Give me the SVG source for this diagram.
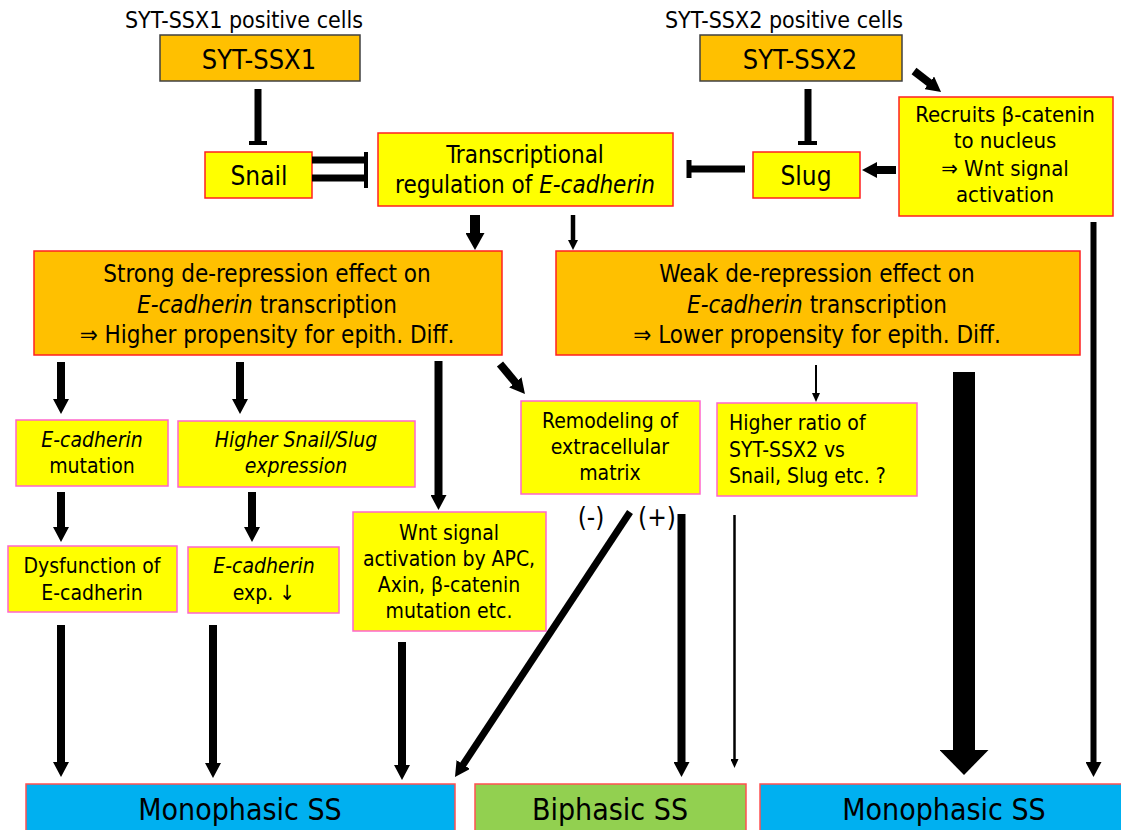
<svg xmlns="http://www.w3.org/2000/svg" width="1121" height="830" viewBox="0 0 1121 830">
<style>
text { font-family: 'DejaVu Sans Condensed', 'DejaVu Sans', sans-serif; font-stretch: condensed; fill: #000; text-anchor: middle; }
.t21 { font-size: 21px; }
.t22 { font-size: 22px; }
.t23 { font-size: 23px; }
.t24 { font-size: 24px; }
.t26 { font-size: 26px; }
.t27 { font-size: 27px; }
.t30 { font-size: 30px; }
.it { font-style: italic; }
.ordk { fill: #FFC000; stroke: #404040; stroke-width: 1.5; }
.or { fill: #FFC000; stroke: #FF2020; stroke-width: 1.5; }
.ye { fill: #FFFF00; stroke: #FF2020; stroke-width: 1.5; }
.yp { fill: #FFFF00; stroke: #FF66CC; stroke-width: 1.5; }
.bl { fill: #00B0F0; stroke: #FF5050; stroke-width: 1.5; }
.gr { fill: #92D050; stroke: #FF5050; stroke-width: 1.5; }
.c line, .c path { stroke: #000; fill: none; }
</style>
<defs>
<marker id="hb" markerUnits="userSpaceOnUse" markerWidth="17" markerHeight="19" viewBox="0 0 17 19" refX="1" refY="9.5" orient="auto"><path d="M0,0 L17,9.5 L0,19 z" fill="#000"/></marker>
<marker id="hm" markerUnits="userSpaceOnUse" markerWidth="15" markerHeight="16" viewBox="0 0 15 16" refX="1" refY="8" orient="auto"><path d="M0,0 L15,8 L0,16 z" fill="#000"/></marker>
<marker id="hs" markerUnits="userSpaceOnUse" markerWidth="10" markerHeight="10" viewBox="0 0 10 10" refX="1" refY="5" orient="auto"><path d="M0,0 L10,5 L0,10 z" fill="#000"/></marker>
<marker id="ht" markerUnits="userSpaceOnUse" markerWidth="9" markerHeight="8" viewBox="0 0 9 8" refX="1" refY="4" orient="auto"><path d="M0,0 L9,4 L0,8 z" fill="#000"/></marker>
<marker id="hh" markerUnits="userSpaceOnUse" markerWidth="25" markerHeight="49" viewBox="0 0 25 49" refX="1" refY="24.5" orient="auto"><path d="M0,0 L25,24.5 L0,49 z" fill="#000"/></marker>
</defs>

<text class="t23" x="244" y="28">SYT-SSX1 positive cells</text>
<text class="t23" x="784" y="28">SYT-SSX2 positive cells</text>

<g id="syt-ssx1"><rect class="ordk" x="160" y="35" width="200" height="46"/><text class="t27" x="259" y="69">SYT-SSX1</text></g>
<g id="syt-ssx2"><rect class="ordk" x="700" y="35" width="202" height="46"/><text class="t27" x="800" y="69">SYT-SSX2</text></g>
<g id="snail"><rect class="ye" x="205" y="152" width="107" height="46"/><text class="t26" x="259" y="185">Snail</text></g>
<g id="transcriptional"><rect class="ye" x="378" y="133" width="295" height="73"/><text class="t24" x="525" y="163">Transcriptional</text><text class="t24" x="525" y="193">regulation of <tspan class="it">E-cadherin</tspan></text></g>
<g id="slug"><rect class="ye" x="753" y="152" width="107" height="46"/><text class="t26" x="806" y="185">Slug</text></g>
<g id="recruits"><rect class="ye" x="899" y="97" width="214" height="119"/><text class="t22" x="1005" y="122">Recruits β-catenin</text><text class="t22" x="1005" y="148">to nucleus</text><text class="t22" x="1005" y="176">⇒ Wnt signal</text><text class="t22" x="1005" y="202">activation</text></g>
<g id="strong"><rect class="or" x="34" y="251" width="468" height="104"/><text class="t24" x="267" y="282">Strong de-repression effect on</text><text class="t24" x="267" y="313"><tspan class="it">E-cadherin</tspan> transcription</text><text class="t24" x="267" y="343">⇒ Higher propensity for epith. Diff.</text></g>
<g id="weak"><rect class="or" x="556" y="251" width="524" height="104"/><text class="t24" x="817" y="282">Weak de-repression effect on</text><text class="t24" x="817" y="313"><tspan class="it">E-cadherin</tspan> transcription</text><text class="t24" x="817" y="343">⇒ Lower propensity for epith. Diff.</text></g>
<g id="ecad-mutation"><rect class="yp" x="16" y="420" width="152" height="66"/><text class="t21 it" x="92" y="447">E-cadherin</text><text class="t21" x="92" y="473">mutation</text></g>
<g id="higher-snail-slug"><rect class="yp" x="178" y="421" width="237" height="66"/><text class="t21 it" x="296" y="447">Higher Snail/Slug</text><text class="t21 it" x="296" y="473">expression</text></g>
<g id="remodeling"><rect class="yp" x="521" y="401" width="179" height="93"/><text class="t21" x="610" y="428">Remodeling of</text><text class="t21" x="610" y="454">extracellular</text><text class="t21" x="610" y="480">matrix</text></g>
<g id="higher-ratio"><rect class="yp" x="717" y="403" width="200" height="93"/><text class="t21" x="729" y="430" style="text-anchor:start">Higher ratio of</text><text class="t21" x="729" y="457" style="text-anchor:start">SYT-SSX2 vs</text><text class="t21" x="729" y="483" style="text-anchor:start">Snail, Slug etc. ?</text></g>
<g id="dysfunction"><rect class="yp" x="8" y="546" width="169" height="66"/><text class="t21" x="92" y="573">Dysfunction of</text><text class="t21" x="92" y="600">E-cadherin</text></g>
<g id="ecad-exp"><rect class="yp" x="188" y="547" width="151" height="66"/><text class="t21 it" x="264" y="573">E-cadherin</text><text class="t21" x="264" y="600">exp. ↓</text></g>
<g id="wnt"><rect class="yp" x="353" y="512" width="193" height="119"/><text class="t21" x="449" y="540">Wnt signal</text><text class="t21" x="449" y="566">activation by APC,</text><text class="t21" x="449" y="592">Axin, β-catenin</text><text class="t21" x="449" y="618">mutation etc.</text></g>
<g id="mono1"><rect class="bl" x="26" y="784" width="429" height="70"/><text class="t30" x="240" y="820">Monophasic SS</text></g>
<g id="biphasic"><rect class="gr" x="475" y="784" width="271" height="70"/><text class="t30" x="610" y="820">Biphasic SS</text></g>
<g id="mono2"><rect class="bl" x="760" y="784" width="370" height="70"/><text class="t30" x="944" y="820">Monophasic SS</text></g>

<text class="t26" x="591" y="526">(-)</text>
<text class="t26" x="657" y="526">(+)</text>

<g id="connectors" class="c">
<line x1="258" y1="89" x2="258" y2="142" stroke-width="7"/><line x1="249" y1="143" x2="267" y2="143" stroke-width="4"/>
<line x1="808" y1="89" x2="808" y2="142" stroke-width="7"/><line x1="798" y1="143" x2="817" y2="143" stroke-width="4"/>
<line x1="312" y1="160" x2="365" y2="160" stroke-width="7"/><line x1="312" y1="178" x2="365" y2="178" stroke-width="7"/><line x1="366" y1="152" x2="366" y2="188" stroke-width="4"/>
<line x1="745" y1="169" x2="688" y2="169" stroke-width="7"/><line x1="689" y1="160" x2="689" y2="178" stroke-width="5"/>
<line x1="914" y1="71" x2="930" y2="83.4" stroke-width="8" marker-end="url(#hm)"/>
<line x1="896" y1="170" x2="876" y2="170" stroke-width="8" marker-end="url(#hm)"/>
<line x1="475" y1="215" x2="475" y2="234" stroke-width="10" marker-end="url(#hb)"/>
<line x1="573" y1="215" x2="573" y2="241" stroke-width="4.5" marker-end="url(#hs)"/>
<line x1="61" y1="362" x2="61" y2="400" stroke-width="8" marker-end="url(#hm)"/>
<line x1="240" y1="362" x2="240" y2="400" stroke-width="8" marker-end="url(#hm)"/>
<line x1="438.5" y1="361" x2="438.5" y2="496" stroke-width="8" marker-end="url(#hm)"/>
<line x1="500" y1="364" x2="516" y2="383.2" stroke-width="8" marker-end="url(#hm)"/>
<line x1="816" y1="365" x2="816" y2="394" stroke-width="2" marker-end="url(#ht)"/>
<line x1="61" y1="492" x2="61" y2="528" stroke-width="8" marker-end="url(#hm)"/>
<line x1="252" y1="492" x2="252" y2="528" stroke-width="8" marker-end="url(#hm)"/>
<line x1="61" y1="625" x2="61" y2="763" stroke-width="8" marker-end="url(#hm)"/>
<line x1="213" y1="625" x2="213" y2="764" stroke-width="8" marker-end="url(#hm)"/>
<line x1="402" y1="642" x2="402" y2="766" stroke-width="8" marker-end="url(#hm)"/>
<line x1="630" y1="512" x2="462.7" y2="765.3" stroke-width="7" marker-end="url(#hm)"/>
<line x1="681.5" y1="514" x2="681.5" y2="763" stroke-width="8" marker-end="url(#hm)"/>
<line x1="734.5" y1="515" x2="734.5" y2="760" stroke-width="2.5" marker-end="url(#ht)"/>
<line x1="964" y1="372" x2="964" y2="751" stroke-width="22" marker-end="url(#hh)"/>
<line x1="1093.5" y1="222" x2="1093.5" y2="763" stroke-width="6" marker-end="url(#hm)"/>
</g>
</svg>
